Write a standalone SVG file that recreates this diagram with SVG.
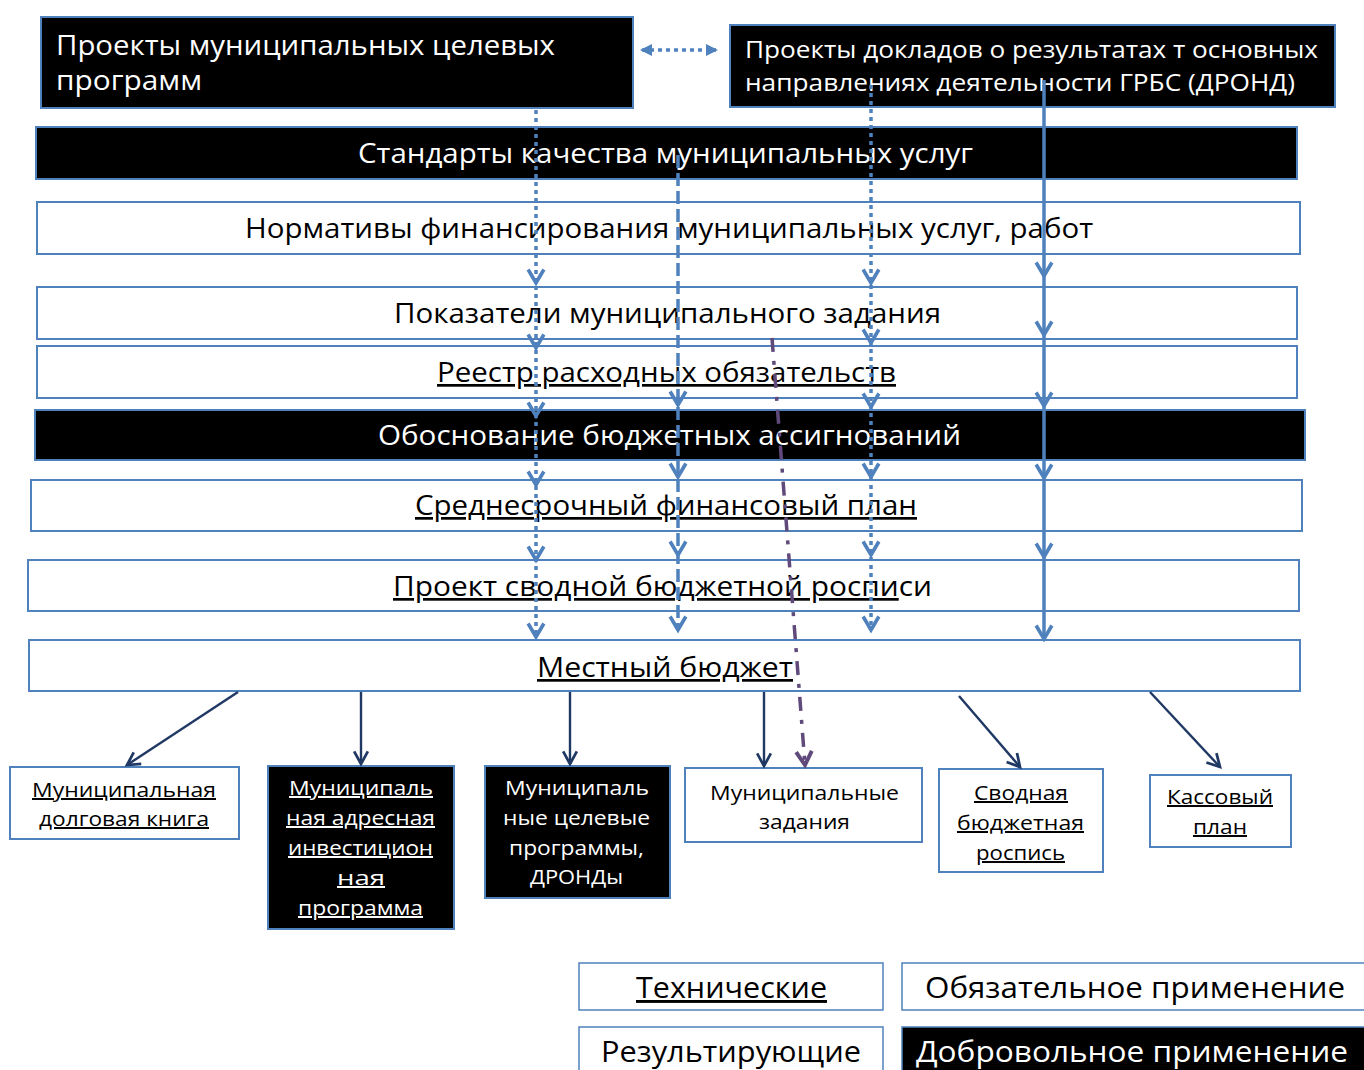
<svg xmlns="http://www.w3.org/2000/svg" width="1364" height="1070" viewBox="0 0 1364 1070">
<style>
.bw{fill:#ffffff;stroke:#4f81bd;stroke-width:2}
.bb{fill:#000000;stroke:#4f81bd;stroke-width:2}
text{font-family:"Open Sans","Noto Sans","DejaVu Sans",sans-serif}
.t{font-size:27px;fill:#000}
.tw{font-size:27px;fill:#fff}
.s{font-size:20px;fill:#000}
.sw{font-size:20px;fill:#fff}
.l{font-size:29px;fill:#000}
.lw{font-size:29px;fill:#fff}
.u{text-decoration:underline}
.blue{fill:none;stroke:#4f81bd;stroke-width:3.5}
.dot{stroke-dasharray:4,4}
.dash{stroke-dasharray:13,5}
.navy{fill:none;stroke:#1f3864;stroke-width:2.4;marker-end:url(#nv)}
</style>
<defs>
<marker id="cb" markerUnits="userSpaceOnUse" markerWidth="18" markerHeight="18" viewBox="0 0 16 16" refX="14" refY="8" orient="auto" overflow="visible"><path d="M2,1 L14,8 L2,15" fill="none" stroke="#4f81bd" stroke-width="3.2"/></marker>
<marker id="tb" markerUnits="userSpaceOnUse" markerWidth="12" markerHeight="12" viewBox="0 0 12 12" refX="10" refY="6" orient="auto-start-reverse" overflow="visible"><path d="M0,0 L12,6 L0,12 Z" fill="#4f81bd"/></marker>
<marker id="cp" markerUnits="userSpaceOnUse" markerWidth="18" markerHeight="18" viewBox="0 0 16 16" refX="14" refY="8" orient="auto" overflow="visible"><path d="M2,1 L14,8 L2,15" fill="none" stroke="#604a7b" stroke-width="3.5"/></marker>
<marker id="nv" markerUnits="userSpaceOnUse" markerWidth="16" markerHeight="16" viewBox="0 0 14 14" refX="12" refY="7" orient="auto" overflow="visible"><path d="M1,1 L12,7 L1,13" fill="none" stroke="#1f3864" stroke-width="2.4"/></marker>
</defs>

<g id="n1"><rect class="bb" x="41" y="17" width="592" height="91"/>
<text class="tw" x="56" y="55" textLength="499" lengthAdjust="spacingAndGlyphs">Проекты муниципальных целевых</text>
<text class="tw" x="56" y="90" textLength="146" lengthAdjust="spacingAndGlyphs">программ</text></g>

<g id="n2"><rect class="bb" x="730" y="25" width="605" height="82"/>
<text class="tw" x="745" y="58" style="font-size:24px" textLength="573" lengthAdjust="spacingAndGlyphs">Проекты докладов о результатах т основных</text>
<text class="tw" x="745" y="91" style="font-size:24px" textLength="550" lengthAdjust="spacingAndGlyphs">направлениях деятельности ГРБС (ДРОНД)</text></g>

<g id="n3"><rect class="bb" x="36" y="127" width="1261" height="52"/>
<text class="tw" x="358" y="163" textLength="615" lengthAdjust="spacingAndGlyphs">Стандарты качества муниципальных услуг</text></g>

<g id="n4"><rect class="bw" x="37" y="202" width="1263" height="52"/>
<text class="t" x="245" y="238" textLength="848" lengthAdjust="spacingAndGlyphs">Нормативы финансирования муниципальных услуг, работ</text></g>

<g id="n5"><rect class="bw" x="37" y="287" width="1260" height="52"/>
<text class="t" x="394" y="323" textLength="547" lengthAdjust="spacingAndGlyphs">Показатели муниципального задания</text></g>

<g id="n6"><rect class="bw" x="37" y="346" width="1260" height="52"/>
<text class="t u" x="437" y="382" textLength="459" lengthAdjust="spacingAndGlyphs">Реестр расходных обязательств</text></g>

<g id="n7"><rect class="bb" x="35" y="410" width="1270" height="50"/>
<text class="tw" x="378" y="445" textLength="583" lengthAdjust="spacingAndGlyphs">Обоснование бюджетных ассигнований</text></g>

<g id="n8"><rect class="bw" x="31" y="480" width="1271" height="51"/>
<text class="t u" x="415" y="515" textLength="502" lengthAdjust="spacingAndGlyphs">Среднесрочный финансовый план</text></g>

<g id="n9"><rect class="bw" x="28" y="560" width="1271" height="51"/>
<text class="t" x="393" y="596" textLength="539" lengthAdjust="spacingAndGlyphs"><tspan class="u">Проект сводной бюджетной роспи</tspan>си</text></g>

<g id="n10"><rect class="bw" x="29" y="640" width="1271" height="51"/>
<text class="t u" x="537" y="677" textLength="256" lengthAdjust="spacingAndGlyphs">Местный бюджет</text></g>

<g id="b1"><rect class="bw" x="10" y="767" width="229" height="72"/>
<text class="s u" x="32" y="797" textLength="184" lengthAdjust="spacingAndGlyphs">Муниципальная</text>
<text class="s u" x="39" y="826" textLength="170" lengthAdjust="spacingAndGlyphs">долговая книга</text></g>

<g id="b2"><rect class="bb" x="268" y="766" width="186" height="163"/>
<text class="sw u" x="289" y="795" textLength="144" lengthAdjust="spacingAndGlyphs">Муниципаль</text>
<text class="sw u" x="286" y="825" textLength="149" lengthAdjust="spacingAndGlyphs">ная адресная</text>
<text class="sw u" x="288" y="855" textLength="145" lengthAdjust="spacingAndGlyphs">инвестицион</text>
<text class="sw u" x="337" y="885" textLength="48" lengthAdjust="spacingAndGlyphs">ная</text>
<text class="sw u" x="298" y="915" textLength="125" lengthAdjust="spacingAndGlyphs">программа</text></g>

<g id="b3"><rect class="bb" x="485" y="766" width="185" height="132"/>
<text class="sw" x="505" y="795" textLength="144" lengthAdjust="spacingAndGlyphs">Муниципаль</text>
<text class="sw" x="503" y="825" textLength="147" lengthAdjust="spacingAndGlyphs">ные целевые</text>
<text class="sw" x="509" y="855" textLength="135" lengthAdjust="spacingAndGlyphs">программы,</text>
<text class="sw" x="530" y="884" textLength="93" lengthAdjust="spacingAndGlyphs">ДРОНДы</text></g>

<g id="b4"><rect class="bw" x="685" y="768" width="237" height="74"/>
<text class="s" x="710" y="800" textLength="189" lengthAdjust="spacingAndGlyphs">Муниципальные</text>
<text class="s" x="759" y="829" textLength="91" lengthAdjust="spacingAndGlyphs">задания</text></g>

<g id="b5"><rect class="bw" x="939" y="769" width="164" height="103"/>
<text class="s u" x="974" y="800" textLength="94" lengthAdjust="spacingAndGlyphs">Сводная</text>
<text class="s u" x="957" y="830" textLength="127" lengthAdjust="spacingAndGlyphs">бюджетная</text>
<text class="s u" x="976" y="860" textLength="89" lengthAdjust="spacingAndGlyphs">роспись</text></g>

<g id="b6"><rect class="bw" x="1150" y="775" width="141" height="72"/>
<text class="s u" x="1167" y="804" textLength="106" lengthAdjust="spacingAndGlyphs">Кассовый</text>
<text class="s u" x="1193" y="834" textLength="54" lengthAdjust="spacingAndGlyphs">план</text></g>

<g id="leg1"><rect class="bw" x="579" y="963" width="304" height="47" style="stroke-width:1.5"/>
<text class="l u" x="636" y="998" textLength="191" lengthAdjust="spacingAndGlyphs">Технические</text></g>
<g id="leg2"><rect class="bw" x="902" y="963" width="470" height="47" style="stroke-width:1.5"/>
<text class="l" x="925" y="998" textLength="420" lengthAdjust="spacingAndGlyphs">Обязательное применение</text></g>
<g id="leg3"><rect class="bw" x="579" y="1027" width="304" height="50" style="stroke-width:1.5"/>
<text class="l" x="601" y="1062" textLength="260" lengthAdjust="spacingAndGlyphs">Результирующие</text></g>
<g id="leg4"><rect class="bb" x="902" y="1027" width="470" height="50" style="stroke-width:1.5"/>
<text class="lw" x="916" y="1062" textLength="432" lengthAdjust="spacingAndGlyphs">Добровольное применение</text></g>

<g id="connectors">
<line class="blue dot" x1="642" y1="50" x2="716" y2="50" marker-start="url(#tb)" marker-end="url(#tb)"/>
<polyline class="blue dot" points="536,110 536,283 536,348 536,416 536,485 536,560 536,637" marker-mid="url(#cb)" marker-end="url(#cb)"/>
<polyline class="blue dash" points="678,155 678,405 678,477 678,555 678,630" marker-mid="url(#cb)" marker-end="url(#cb)"/>
<polyline class="blue dot" points="871,85 871,283 871,343 871,407 871,477 871,555 871,630" marker-mid="url(#cb)" marker-end="url(#cb)"/>
<polyline class="blue" points="1044,80 1044,276 1044,335 1044,406 1044,478 1044,557 1044,639" marker-mid="url(#cb)" marker-end="url(#cb)"/>
<line x1="772" y1="338" x2="805" y2="765" fill="none" stroke="#604a7b" stroke-width="3.5" stroke-dasharray="14,9,4,9" marker-end="url(#cp)"/>
<line class="navy" x1="238" y1="692" x2="127" y2="765"/>
<line class="navy" x1="361" y1="692" x2="361" y2="764"/>
<line class="navy" x1="570" y1="692" x2="570" y2="764"/>
<line class="navy" x1="764" y1="692" x2="764" y2="766"/>
<line class="navy" x1="959" y1="696" x2="1020" y2="767"/>
<line class="navy" x1="1150" y1="692" x2="1220" y2="767"/>
</g>
</svg>
